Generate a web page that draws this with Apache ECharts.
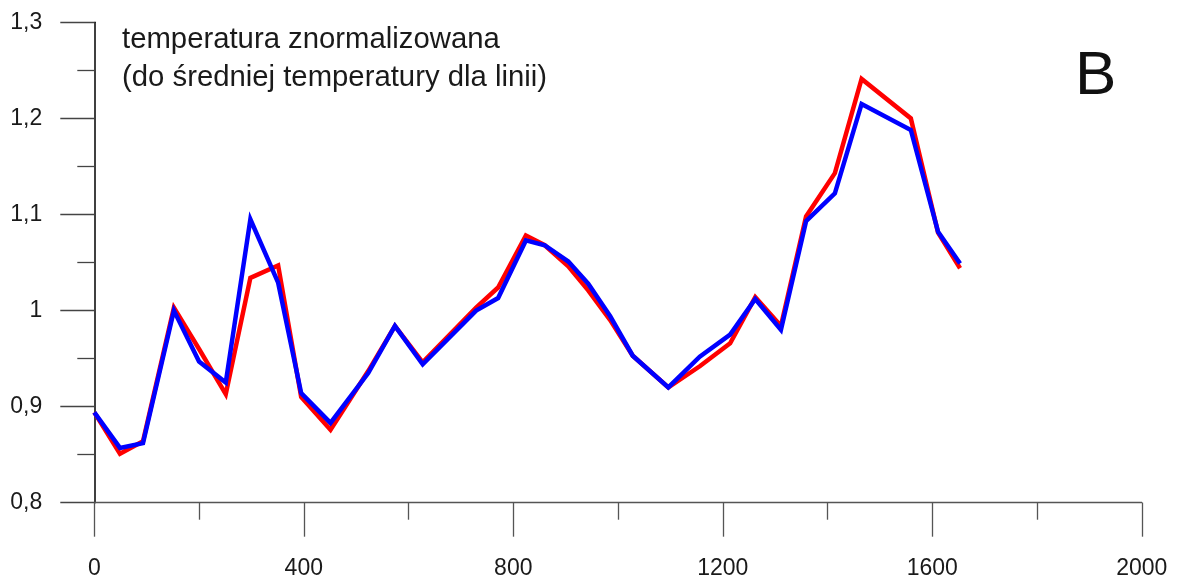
<!DOCTYPE html>
<html>
<head>
<meta charset="utf-8">
<script src="https://cdn.jsdelivr.net/npm/echarts@6/dist/echarts.min.js"></script>
<style>
html,body{margin:0;padding:0;background:#fff;}
#chart{width:1179px;height:580px;}
</style>
</head>
<body>
<div id="chart"></div>
<script>
// positions along the line (x axis)
const xPos = [0, 49, 93, 152, 200, 251, 298, 351, 395, 451, 523, 574, 627, 729, 771, 824, 860, 905, 943, 985, 1028, 1096, 1156, 1214, 1262, 1311, 1359, 1414, 1465, 1559, 1611, 1653];
// red series values
const redValues = [0.894, 0.851, 0.864, 1.003, 0.960, 0.913, 1.034, 1.047, 0.910, 0.876, 0.937, 0.984, 0.946, 1.003, 1.024, 1.078, 1.068, 1.046, 1.021, 0.990, 0.953, 0.920, 0.942, 0.966, 1.014, 0.984, 1.098, 1.143, 1.241, 1.200, 1.081, 1.044];
// blue series values
const blueValues = [0.894, 0.857, 0.862, 1.000, 0.947, 0.925, 1.095, 1.029, 0.914, 0.883, 0.935, 0.984, 0.944, 1.000, 1.013, 1.073, 1.068, 1.051, 1.028, 0.994, 0.953, 0.920, 0.952, 0.975, 1.012, 0.980, 1.093, 1.122, 1.215, 1.188, 1.082, 1.049];
const titleLines = ["temperatura znormalizowana", "(do średniej temperatury dla linii)"];
const panelLetter = "B";

const FONT = '"Liberation Sans", Arial, sans-serif';
const chart = echarts.init(document.getElementById('chart'), null, {renderer: 'canvas'});
const pairs = (vals) => xPos.map((x, i) => [x, vals[i]]);

chart.setOption({
  animation: false,
  backgroundColor: '#fff',
  grid: {left: 94.3, right: 37.2, top: 22.3, bottom: 77.3, containLabel: false},
  xAxis: {
    type: 'value', min: 0, max: 2000, interval: 400,
    axisLine: {show: true, onZero: false, lineStyle: {color: '#555', width: 1.3}},
    axisTick: {show: true, inside: false, length: 34, lineStyle: {color: '#555', width: 1.3}},
    minorTick: {show: true, splitNumber: 2, length: 17, lineStyle: {color: '#555', width: 1.3}},
    splitLine: {show: false},
    axisLabel: {color: '#1a1a1a', fontSize: 23, fontFamily: FONT, margin: 54, formatter: (v) => String(v)}
  },
  yAxis: {
    type: 'value', min: 0.8, max: 1.3, interval: 0.1,
    axisLine: {show: true, onZero: false, lineStyle: {color: '#000', width: 1.5}},
    axisTick: {show: true, inside: false, length: 34, lineStyle: {color: '#444', width: 1.3}},
    minorTick: {show: true, splitNumber: 2, length: 17, lineStyle: {color: '#444', width: 1.3}},
    splitLine: {show: false},
    axisLabel: {
      color: '#1a1a1a', fontSize: 23, fontFamily: FONT, margin: 52,
      formatter: (v) => {
        const r = Math.round(v * 10) / 10;
        if (Math.abs(r - 1) < 1e-9) return '1';
        return r.toFixed(1).replace('.', ',');
      }
    }
  },
  series: [
    {type: 'line', data: pairs(redValues), symbol: 'none', lineStyle: {color: '#ff0000', width: 4.5, join: 'miter'}, z: 2},
    {type: 'line', data: pairs(blueValues), symbol: 'none', lineStyle: {color: '#0000ff', width: 4.5, join: 'miter'}, z: 3}
  ],
  graphic: [
    {type: 'text', left: 122, top: 25, style: {text: titleLines[0], fontSize: 29.3, fontFamily: FONT, fill: '#1a1a1a'}},
    {type: 'text', left: 122, top: 63, style: {text: titleLines[1], fontSize: 29.3, fontFamily: FONT, fill: '#1a1a1a'}},
    {type: 'text', left: 1075, top: 46, style: {text: panelLetter, fontSize: 62, fontFamily: FONT, fill: '#111'}}
  ]
});
</script>
</body>
</html>
